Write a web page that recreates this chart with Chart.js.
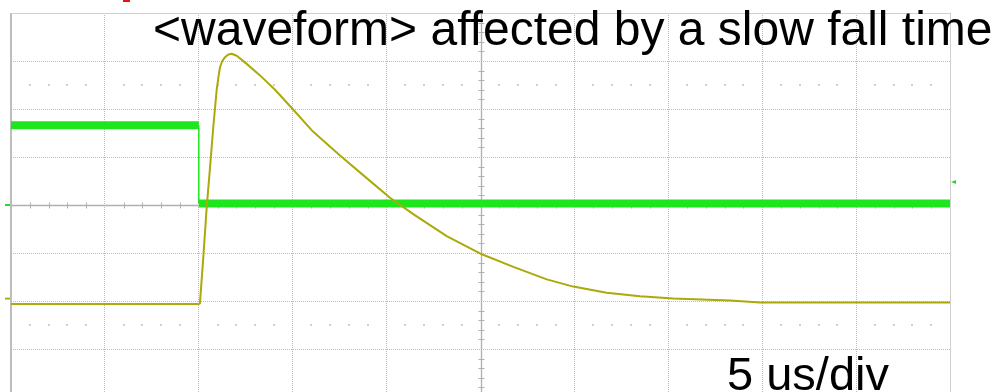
<!DOCTYPE html>
<html>
<head>
<meta charset="utf-8">
<script src="https://cdn.jsdelivr.net/npm/chart.js@4"></script>
<style>
  html, body { margin: 0; padding: 0; background: #fff; overflow: hidden; }
  canvas { display: block; }
</style>
</head>
<body>
<canvas id="scope" width="998" height="410"></canvas>
<script>
// time in us (5 us/div, 10 divs), level in divisions (8 divs, centre = 0)
const yellowTime = [0, 10.0, 10.06, 10.24, 10.42, 10.6, 10.77, 10.95, 11.05, 11.13, 11.26, 11.4, 11.55, 11.75, 12.02, 12.55, 13.26, 14.06, 14.95, 16.08, 17.52, 18.94, 20.18, 21.42, 23.2, 24.97, 26.75, 28.53, 29.94, 31.72, 33.49, 35.27, 38.29, 39.88, 50];
const yellowLevel = [-2.06, -2.06, -2.05, -1.09, -0.05, 0.79, 1.62, 2.39, 2.68, 2.87, 3.01, 3.08, 3.13, 3.15, 3.11, 2.94, 2.7, 2.4, 2.02, 1.53, 1.03, 0.56, 0.15, -0.19, -0.65, -1.01, -1.29, -1.55, -1.7, -1.83, -1.9, -1.95, -1.99, -2.03, -2.03];

const greenTime = [0, 10, 10, 50];
const greenLevel = [1.66, 1.66, 0.03, 0.03];

const xDivs = [0, 5, 10, 15, 20, 25, 30, 35, 40, 45, 50];
const yDivs = [-4, -3, -2, -1, 0, 1, 2, 3, 4];

const titleText = "<waveform> affected by a slow fall time";
const scaleText = "5 us/div";

function toPoints(xs, ys) {
  return xs.map((x, i) => ({ x: x, y: ys[i] }));
}

const gridColor = "#bdbdbd";

const scopeDecor = {
  id: "scopeDecor",
  beforeDatasetsDraw(chart) {
    const ctx = chart.ctx;
    const xs = chart.scales.x;
    const ys = chart.scales.y;
    const a = chart.chartArea;
    ctx.save();

    // frame
    ctx.strokeStyle = "#bdbdbd";
    ctx.lineWidth = 2;
    ctx.beginPath();
    ctx.moveTo(a.left, a.bottom);
    ctx.lineTo(a.left, a.top);
    ctx.stroke();
    ctx.lineWidth = 1;
    ctx.strokeStyle = "#cfcfcf";
    ctx.beginPath();
    ctx.moveTo(a.left, a.top + 0.5);
    ctx.lineTo(a.right, a.top + 0.5);
    ctx.moveTo(a.right + 0.5, a.top);
    ctx.lineTo(a.right + 0.5, a.bottom);
    ctx.stroke();

    // centre cross
    const cx = Math.round(xs.getPixelForValue(25)) + 0.5;
    const cy = Math.round(ys.getPixelForValue(0)) + 0.5;
    ctx.strokeStyle = "#b0b0b0";
    ctx.lineWidth = 1.3;
    ctx.beginPath();
    ctx.moveTo(a.left, cy);
    ctx.lineTo(a.right, cy);
    ctx.moveTo(cx, a.top);
    ctx.lineTo(cx, a.bottom);
    ctx.stroke();

    // minor ticks on the centre lines
    ctx.lineWidth = 1;
    ctx.beginPath();
    for (let t = 0; t <= 50; t += 1) {
      if (t % 5 === 0) continue;
      const px = Math.round(xs.getPixelForValue(t)) + 0.5;
      ctx.moveTo(px, cy - 3);
      ctx.lineTo(px, cy + 3);
    }
    for (let v = -4; v <= 4.001; v += 0.2) {
      if (Math.abs(v - Math.round(v)) < 0.01) continue;
      const py = Math.round(ys.getPixelForValue(v)) + 0.5;
      ctx.moveTo(cx - 3, py);
      ctx.lineTo(cx + 3, py);
    }
    ctx.stroke();

    // dot rows at +/- 2.5 div
    ctx.fillStyle = "#cfcfcf";
    [2.5, -2.5].forEach((v) => {
      const py = Math.round(ys.getPixelForValue(v));
      for (let t = 0; t <= 50; t += 1) {
        if (t % 5 === 0) continue;
        const px = Math.round(xs.getPixelForValue(t));
        ctx.fillRect(px - 1, py - 1, 2, 2);
      }
    });
    ctx.restore();
  },
  afterDraw(chart) {
    const ctx = chart.ctx;
    const ys = chart.scales.y;
    const a = chart.chartArea;
    ctx.save();

    // channel markers
    ctx.fillStyle = "#22dd22";
    const gy = ys.getPixelForValue(0);
    ctx.fillRect(a.left - 6, gy - 1, 5, 2);
    ctx.fillStyle = "#b0b010";
    const yy = ys.getPixelForValue(-1.95);
    ctx.fillRect(a.left - 6, yy - 1, 5, 2);
    ctx.fillStyle = "#22dd22";
    const ty = ys.getPixelForValue(0.48);
    ctx.beginPath();
    ctx.moveTo(a.right + 1, ty);
    ctx.lineTo(a.right + 6, ty - 2);
    ctx.lineTo(a.right + 6, ty + 2);
    ctx.closePath();
    ctx.fill();

    // clipped red fragment at top
    ctx.fillStyle = "#ee1111";
    ctx.fillRect(123, 0, 7, 2);

    // text
    ctx.fillStyle = "#000";
    ctx.textBaseline = "alphabetic";
    ctx.font = "48px 'Liberation Sans', Arial, sans-serif";
    ctx.fillText(titleText, 153, 45);
    ctx.font = "47px 'Liberation Sans', Arial, sans-serif";
    ctx.fillText(scaleText, 727, 390);
    ctx.restore();
  }
};

new Chart(document.getElementById("scope"), {
  type: "line",
  data: {
    datasets: [
      {
        label: "CH2",
        data: toPoints(yellowTime, yellowLevel),
        borderColor: "#aaaa0a",
        borderWidth: 2,
        pointRadius: 0,
        tension: 0,
        borderJoinStyle: "round",
        fill: false,
      },
      {
        label: "CH1",
        data: toPoints(greenTime, greenLevel),
        borderColor: "#1ee61e",
        borderWidth: 8,
        pointRadius: 0,
        tension: 0,
        fill: false,
        segment: {
          borderWidth: (c) => (c.p0.parsed.x === c.p1.parsed.x ? 1.5 : 8),
        },
      },
    ],
  },
  options: {
    responsive: false,
    animation: false,
    layout: { padding: { left: 11, top: 13, right: 48, bottom: 13 } },
    plugins: {
      legend: { display: false },
      tooltip: { enabled: false },
    },
    scales: {
      x: {
        type: "linear",
        min: 0,
        max: 50,
        afterBuildTicks: (s) => { s.ticks = xDivs.map((v) => ({ value: v })); },
        ticks: { display: false },
        grid: {
          drawTicks: false,
          color: (c) => (c.tick && (c.tick.value === 0 || c.tick.value === 50 || c.tick.value === 25) ? "rgba(0,0,0,0)" : gridColor),
        },
        border: { display: false, dash: [1, 1] },
      },
      y: {
        min: -4,
        max: 4,
        afterBuildTicks: (s) => { s.ticks = yDivs.map((v) => ({ value: v })); },
        ticks: { display: false },
        grid: {
          drawTicks: false,
          color: (c) => (c.tick && (c.tick.value === 4 || c.tick.value === 0) ? "rgba(0,0,0,0)" : gridColor),
        },
        border: { display: false, dash: [1, 1] },
      },
    },
  },
  plugins: [scopeDecor],
});
</script>
</body>
</html>
